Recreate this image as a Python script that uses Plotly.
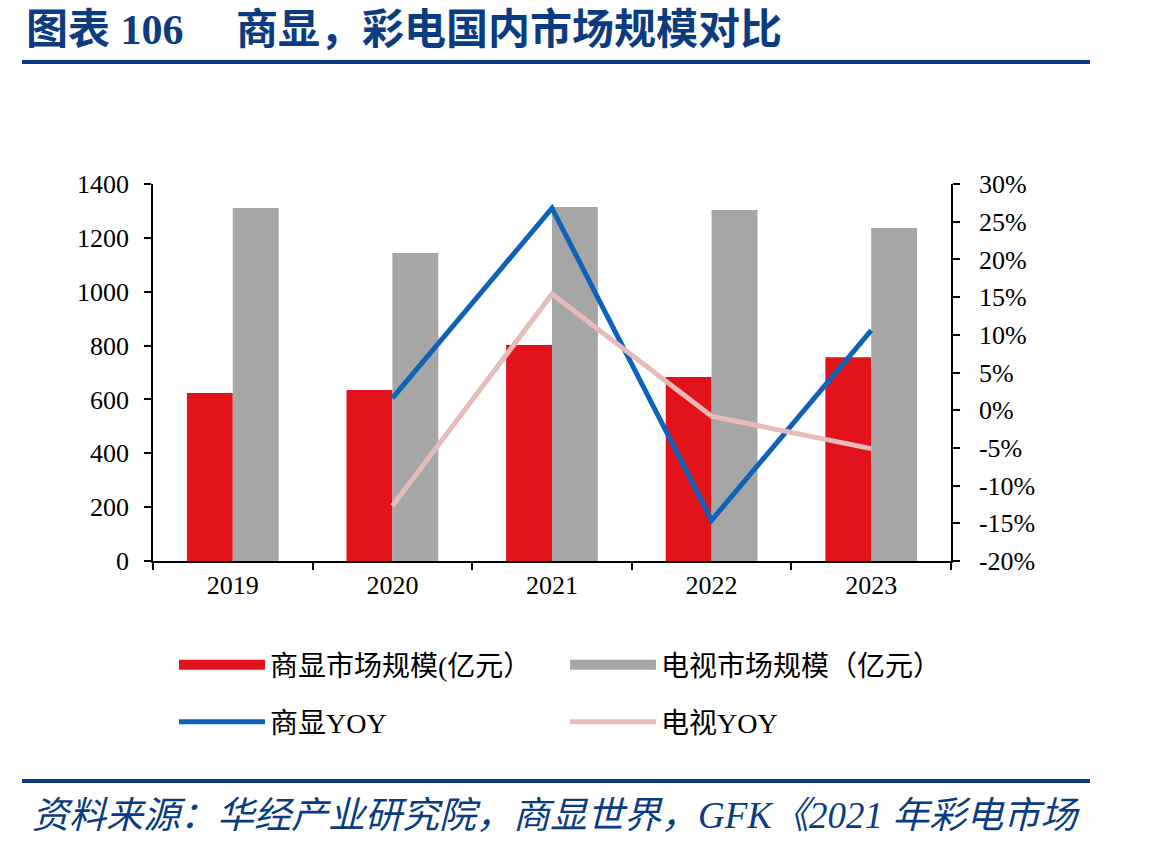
import plotly.graph_objects as go

years = ["2019", "2020", "2021", "2022", "2023"]
shangxian_size = [624, 635, 802, 683, 757]
tv_size = [1311, 1144, 1315, 1303, 1237]
shangxian_yoy = [None, 0.016, 0.268, -0.146, 0.106]
tv_yoy = [None, -0.127, 0.154, -0.008, -0.051]

y2_ticks = [-0.20, -0.15, -0.10, -0.05, 0.0, 0.05, 0.10, 0.15, 0.20, 0.25, 0.30]
y2_labels = ["-20%", "-15%", "-10%", "-5%", "0%", "5%", "10%", "15%", "20%", "25%", "30%"]

bar_names = ["商显市场规模(亿元）", "电视市场规模（亿元）"]
line_names = ["商显YOY", "电视YOY"]

title_text = "图表 106&nbsp;&nbsp;&nbsp;&nbsp;&nbsp;商显，彩电国内市场规模对比"
source_text = "资料来源：华经产业研究院，商显世界，GFK《2021 年彩电市场"

SERIF = "Liberation Serif, Noto Sans CJK SC, serif"
NAVY = "#0B3C80"
RED = "#E3131B"
GRAY = "#A6A6A6"
BLUE = "#0F62BA"
PINK = "#E8BBBB"

W, H = 1149, 849
L, R, T, B = 153, 951, 184, 561
pw, ph = R - L, B - T


def px(x):
    return (x - L) / pw


def py(y):
    return (B - y) / ph


fig = go.Figure()
fig.add_trace(go.Bar(x=years, y=shangxian_size, name=bar_names[0],
                     marker=dict(color=RED, line=dict(width=0)), showlegend=False))
fig.add_trace(go.Bar(x=years, y=tv_size, name=bar_names[1],
                     marker=dict(color=GRAY, line=dict(width=0)), showlegend=False))
# legend swatches for the bar series (wide rectangles as in the reference)
fig.add_trace(go.Scatter(x=[None], y=[None], name=bar_names[0], mode="lines",
                         line=dict(color=RED, width=15), legend="legend", hoverinfo="skip"))
fig.add_trace(go.Scatter(x=[None], y=[None], name=bar_names[1], mode="lines",
                         line=dict(color=GRAY, width=15), legend="legend", hoverinfo="skip"))
fig.add_trace(go.Scatter(x=years, y=shangxian_yoy, name=line_names[0], mode="lines",
                         line=dict(color=BLUE, width=5), yaxis="y2", legend="legend2"))
fig.add_trace(go.Scatter(x=years, y=tv_yoy, name=line_names[1], mode="lines",
                         line=dict(color=PINK, width=5), yaxis="y2", legend="legend2"))

legend_common = dict(orientation="h", xref="container", yref="container",
                     x=174 / W, xanchor="left", yanchor="middle",
                     entrywidth=290, itemwidth=86, font=dict(size=28, family=SERIF),
                     bgcolor="rgba(0,0,0,0)")

fig.update_layout(
    width=W, height=H,
    margin=dict(l=L, r=W - R, t=T, b=H - B),
    paper_bgcolor="white", plot_bgcolor="white",
    barmode="group", bargap=0.425, bargroupgap=0,
    font=dict(family=SERIF, size=26, color="black"),
    xaxis=dict(showline=True, linecolor="black", linewidth=1.5, ticks="outside",
               tickson="boundaries", ticklen=7, tickcolor="black", tickwidth=1.5,
               tickfont=dict(size=26, family=SERIF), showgrid=False, zeroline=False),
    yaxis=dict(range=[0, 1400], dtick=200, showline=True, linecolor="black", linewidth=1.5,
               ticks="outside", ticklen=7, tickcolor="black", tickwidth=1.5,
               ticklabelstandoff=10,
               tickfont=dict(size=26, family=SERIF), showgrid=False, zeroline=False),
    yaxis2=dict(range=[-0.2, 0.3], overlaying="y", side="right", tickvals=y2_ticks,
                ticktext=y2_labels, showline=True, linecolor="black", linewidth=1.5,
                ticks="outside", ticklen=7, tickcolor="black", tickwidth=1.5,
                ticklabelstandoff=14,
                tickfont=dict(size=26, family=SERIF), showgrid=False, zeroline=False),
    legend=dict(legend_common, y=1 - 665 / H),
    legend2=dict(legend_common, y=1 - 722 / H),
    shapes=[
        dict(type="line", xref="paper", yref="paper", x0=px(22), x1=px(1090),
             y0=py(62), y1=py(62), line=dict(color=NAVY, width=4)),
        dict(type="line", xref="paper", yref="paper", x0=px(22), x1=px(1090),
             y0=py(781), y1=py(781), line=dict(color=NAVY, width=4)),
    ],
    annotations=[
        dict(text="<b>" + title_text + "</b>", xref="paper", yref="paper", x=px(24), y=py(30),
             xanchor="left", yanchor="middle", showarrow=False,
             font=dict(size=42, color=NAVY, family=SERIF)),
        dict(text="<i>" + source_text + "</i>", xref="paper", yref="paper", x=px(30), y=py(815),
             xanchor="left", yanchor="middle", showarrow=False,
             font=dict(size=37, color=NAVY, family=SERIF)),
    ],
)

fig.write_html("out.html")
